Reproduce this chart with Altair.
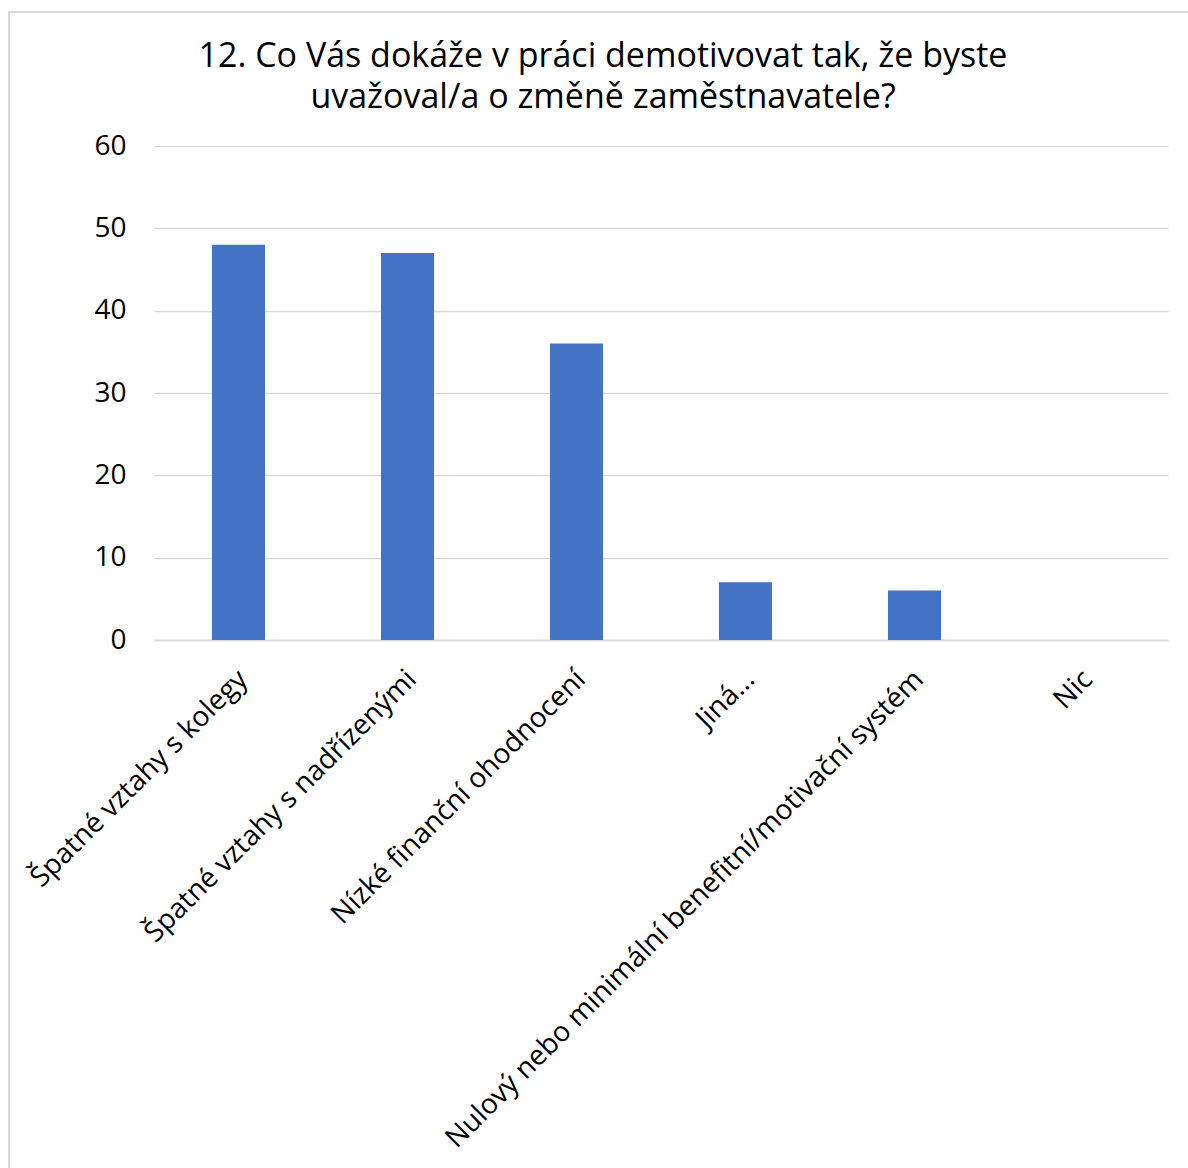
import altair as alt
import pandas as pd

categories = [
    "Špatné vztahy s kolegy",
    "Špatné vztahy s nadřízenými",
    "Nízké finanční ohodnocení",
    "Jiná…",
    "Nulový nebo minimální benefitní/motivační systém",
    "Nic",
]
values = [48, 47, 36, 7, 6, 0]
y_ticks = [0, 10, 20, 30, 40, 50, 60]
title_lines = [
    "12. Co Vás dokáže v práci demotivovat tak, že byste",
    "uvažoval/a o změně zaměstnavatele?",
]

df = pd.DataFrame({"kategorie": categories, "pocet": values})

FONT = "Open Sans"

bars = alt.Chart(df).mark_bar(color="#4472C4").encode(
    x=alt.X(
        "kategorie:N",
        sort=categories,
        title=None,
        scale=alt.Scale(paddingInner=0.686, paddingOuter=0.343),
        axis=alt.Axis(
            labelAngle=-45,
            labelFontSize=28,
            labelFont=FONT,
            labelColor="#000000",
            labelPadding=25,
            labelOffset=-5,
            labelLimit=900,
            ticks=False,
            domain=True,
            domainColor="#D9D9D9",
            domainWidth=1.5,
            grid=False,
        ),
    ),
    y=alt.Y(
        "pocet:Q",
        title=None,
        scale=alt.Scale(domain=[0, 60], nice=False),
        axis=alt.Axis(
            values=y_ticks,
            labelFontSize=28,
            labelFont=FONT,
            labelColor="#000000",
            labelPadding=28,
            ticks=False,
            domain=False,
            grid=True,
            gridColor="#D9D9D9",
            gridWidth=1.5,
        ),
    ),
)

border = alt.Chart(df).mark_rect(
    fill=None, stroke="#D9D9D9", strokeWidth=2
).encode(
    x=alt.value(9 - 154),
    x2=alt.value(1200 - 154),
    y=alt.value(12 - 146),
    y2=alt.value(1200 - 146),
)

chart = alt.layer(border, bars).properties(
    width=1014,
    height=494,
    background="white",
    autosize=alt.AutoSizeParams(type="none"),
    padding={"left": 154, "top": 146, "right": 20, "bottom": 528},
    title=alt.TitleParams(
        text=title_lines,
        fontSize=34,
        font=FONT,
        fontWeight="normal",
        color="#000000",
        anchor="middle",
        frame="group",
        dx=-58,
        offset=-104,
        lineHeight=41,
    ),
).configure_view(stroke=None, strokeWidth=0, strokeOpacity=0)

chart.save("out.html", embed_options={"renderer": "svg", "actions": False})
